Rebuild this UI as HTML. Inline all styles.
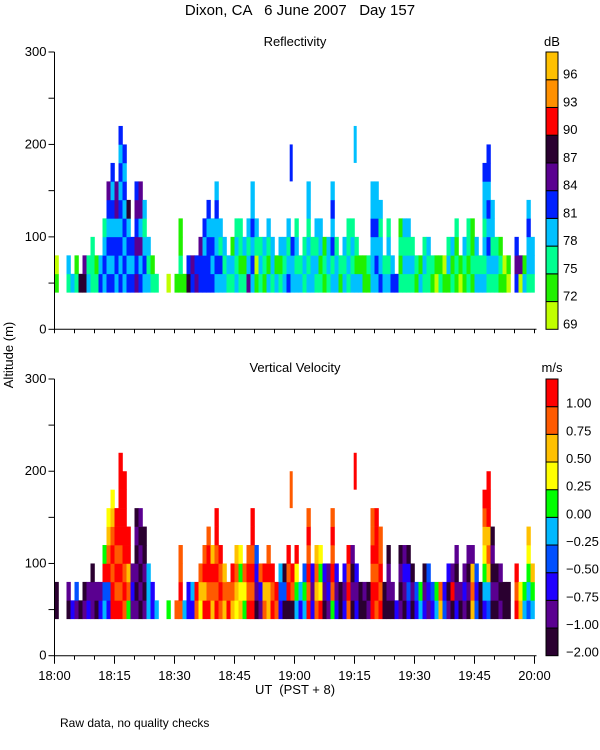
<!DOCTYPE html>
<html><head><meta charset="utf-8"><style>
html,body{margin:0;padding:0;background:#fff;}
svg{display:block;font-family:"Liberation Sans",sans-serif;}
text{fill:#000;font-size:13px;white-space:pre;}
</style></head><body>
<svg id="chart" width="600" height="750" viewBox="0 0 600 750" xmlns="http://www.w3.org/2000/svg" xml:space="preserve">
<text x="300" y="15" text-anchor="middle" style="font-size:15px">Dixon, CA   6 June 2007   Day 157</text>
<text x="295" y="46" text-anchor="middle">Reflectivity</text>
<text x="295" y="372" text-anchor="middle">Vertical Velocity</text>
<text x="552" y="46" text-anchor="middle">dB</text>
<text x="552" y="372" text-anchor="middle">m/s</text>
<text transform="translate(13,355) rotate(-90)" text-anchor="middle">Altitude (m)</text>
<text x="295" y="694" text-anchor="middle">UT  (PST + 8)</text>
<text x="60" y="727" style="font-size:12px">Raw data, no quality checks</text>
<g id="marks"></g>
</svg>
<script>
const heights=[80,0,0,80,60,80,60,80,80,100,80,80,120,160,180,160,220,200,140,100,160,160,140,100,80,60,0,0,60,0,60,120,60,80,80,80,100,120,140,120,160,120,100,80,100,120,120,100,120,160,120,100,100,120,100,80,100,100,120,100,120,80,100,160,100,120,120,100,100,160,100,80,100,120,120,100,80,80,80,160,160,140,80,120,80,60,120,120,120,100,80,80,100,100,80,80,80,80,100,100,120,80,100,120,120,100,80,180,200,140,100,100,80,80,0,100,80,80,140,100];
const reflLevels=["10","","","23","36","21","6","65","32","22","21","43","3432","434345","4343434","34435","434343434","34343434","43436","4342","545454","43535","34323","3232","21","2","","","0","","1","1211","1","64","45","54","445","4434","44434","4343","343343","3423","323","23","231","3232","2122","213","5323","343433","1023","232","123","3123","233","31","213","323","4323","334","3232","32","232","323233","332","2323","2133","121","233","324343","332","12","323","2322","3232","312","31","11","12","333433","343433","43323","32","3232","43","4","2121","2323","2323","232","12","31","232","223","12","01","21","10","132","213","1212","01","123","2122","1211","323","32","3232334","2343434","23233","232","121","10","01","","454","05","31","23343","233"];
const velLevels=["00","","","01","2","13","0","10","21","110","01","21","43956","2398766","9989876","98989","989899999","89899999","5879","1211","101010","010101","1010","44","22","4","","","5","","8","89887","4","2","24","89","678","97987","989987","78979","989899","89898","7878","98","7896","67878","76565","5689","9898","989899","01234","1287","8796","77989","9897","89","2345","0303","09898","0898","45698","24","4534","989898","2123","8787","96565","0123","1212","589898","2121","00","2120","89898","0101","2121","00","01","10","998988","8989","9898","00","0110","01","2","1010","0121","2320","010","23","45","210","123","23","45","78","32","1020","0910","2101","01","121","0101","7871","3232","00","2456789","34787999","010101","010","101","00","00","","989","76","45","34567","457"];
const extraCols=[58.8,74.8];
const extraFrom=[160,180];
const extraTo=[200,220];
const extraRefl=[4,3];
const extraVel=[8,9];
const reflTicks=["69","72","75","78","81","84","87","90","93","96"];
const velTicks=["-2.00","-1.00","-0.75","-0.50","-0.25","0.00","0.25","0.50","0.75","1.00"];
const timeTicks=["18:00","18:15","18:30","18:45","19:00","19:15","19:30","19:45","20:00"];
const altTicks=["0","100","200","300"];

const reflColors=["#c0ff00","#20f000","#00ff90","#00c0ff","#0020ff","#5a0090","#2a0030","#ff0000","#ff9000","#ffc000"];
const velColors=["#2a0030","#5a0090","#2000ff","#0050ff","#00b8ff","#00ff00","#ffff00","#ffc000","#ff5a00","#ff0000"];
const NS="http://www.w3.org/2000/svg";
const g=document.getElementById('marks');
const X0=54.5,X1=534.5;
const xScale=m=>X0+(m/120)*(X1-X0);
const panels=[{top:52,bot:329.3,levels:reflLevels,colors:reflColors,extra:extraRefl,name:'refl'},
              {top:379,bot:655.7,levels:velLevels,colors:velColors,extra:extraVel,name:'vel'}];
function mk(tag,attrs){const e=document.createElementNS(NS,tag);for(const k in attrs)e.setAttribute(k,attrs[k]);g.appendChild(e);return e;}
panels.forEach((p,pi)=>{
  const yScale=a=>p.bot-(a/300)*(p.bot-p.top);
  heights.forEach((h,i)=>{
    const s=p.levels[i];
    if(!h||!s)return;
    const nb=Math.round((h-40)/20);
    for(let b=0;b<nb;b++){
      const lv=+s[Math.min(b,s.length-1)];
      const r=mk('rect',{x:xScale(i),y:yScale(40+(b+1)*20),width:xScale(i+1)-xScale(i)+0.3,height:yScale(40)-yScale(60)+0.3,fill:p.colors[lv]});
      
      
    }
  });
  extraCols.forEach((c,k)=>{
    const r=mk('rect',{x:xScale(c),y:yScale(extraTo[k]),width:3,height:yScale(extraFrom[k])-yScale(extraTo[k]),fill:p.colors[p.extra[k]]});
    
    
  });
  const ya=mk('line',{x1:X0,y1:p.top,x2:X0,y2:p.bot,stroke:'#000','stroke-width':1});
  
  
  const xa=mk('line',{x1:X0,y1:p.bot,x2:X1+2,y2:p.bot,stroke:'#000','stroke-width':1});
  
  
  for(let a=0;a<=300;a+=50){
    const t=mk('line',{x1:X0-6,y1:yScale(a),x2:X0,y2:yScale(a),stroke:'#000'});
    
    
  }
  altTicks.forEach(a=>{
    const t=mk('text',{x:X0-8,y:yScale(+a)+4,'text-anchor':'end'});t.textContent=a;
    
    
  });
  for(let m=0;m<=120;m+=5){
    const len=(pi===1&&m%15===0)?8:4;
    const t=mk('line',{x1:xScale(m),y1:p.bot,x2:xScale(m),y2:p.bot+len,stroke:'#000'});
    
    
  }
  if(pi===1){
    timeTicks.forEach((lab,k)=>{
      const t=mk('text',{x:xScale(k*15),y:680,'text-anchor':'middle'});t.textContent=lab;
      
      
    });
  }
  const seg=(p.bot-p.top)/10;
  for(let k=0;k<10;k++){
    const r=mk('rect',{x:546,y:p.bot-(k+1)*seg,width:12,height:seg,fill:p.colors[k],stroke:'#000','stroke-width':1});
    
    
  }
  const labs=pi===0?reflTicks:velTicks;
  labs.forEach((lab,k)=>{
    let y=pi===0?p.bot-k*seg-1:p.bot-(k===0?0:k*seg)+1;
    const t=mk('text',{x:pi===0?563:566,y:y,'text-anchor':'start'});
    t.textContent=lab.replace('-','\u2212');
    
    
  });
});
</script>
</body></html>
